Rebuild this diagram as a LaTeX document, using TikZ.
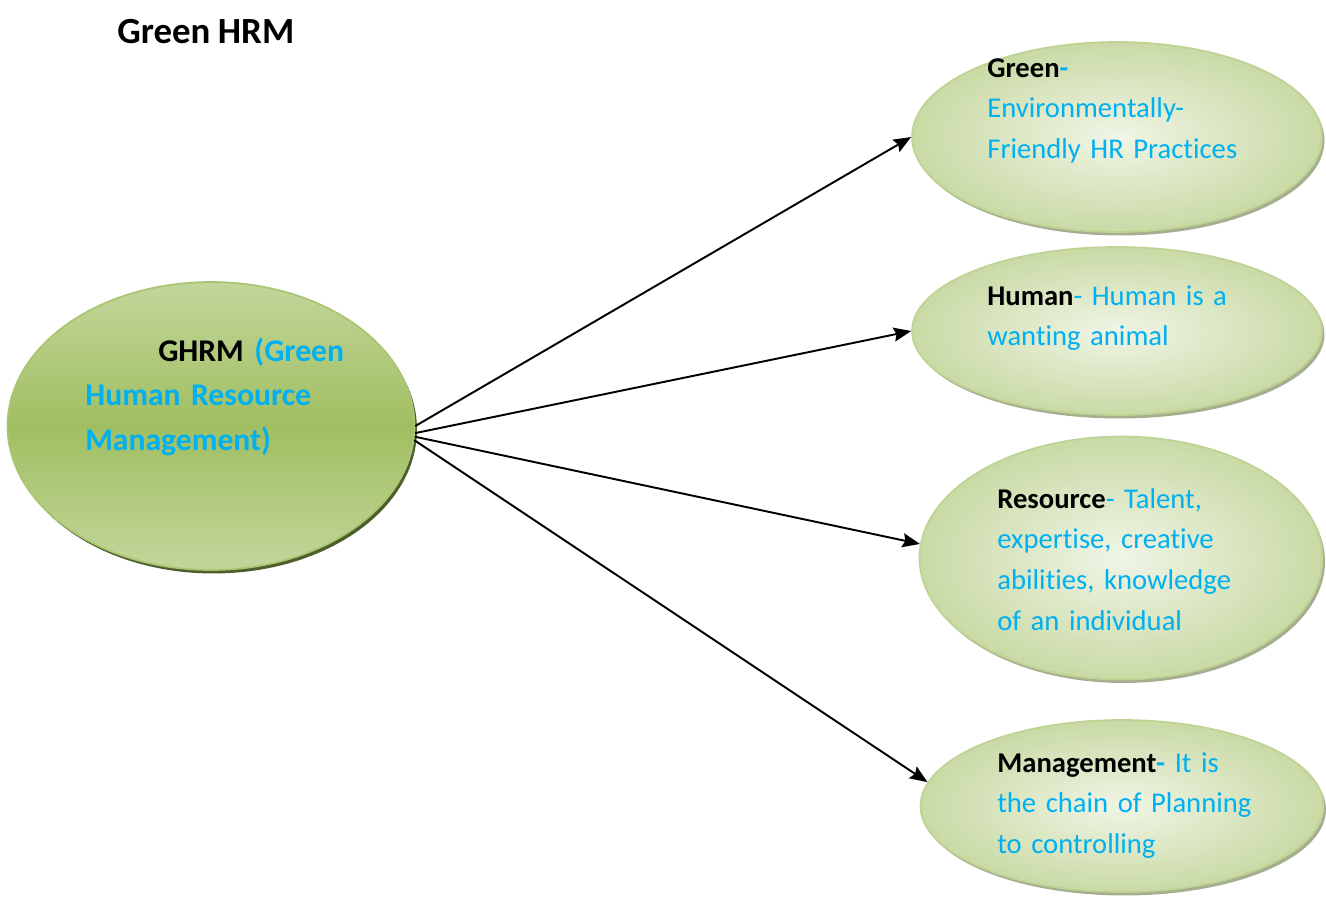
\documentclass[tikz,border=0pt]{standalone}
\usepackage{fontspec}
\setmainfont{Carlito}[Ligatures=NoCommon,WordSpace=0.9]
\usepackage{xcolor}
\usetikzlibrary{arrows.meta,shadows,positioning,shapes.geometric}

\definecolor{ghblue}{HTML}{00B0F0}
\definecolor{leafdark}{HTML}{9BBB59}
\definecolor{leaflight}{HTML}{C3D69B}

\begin{document}
\begin{tikzpicture}[x=0.02cm,y=-0.02cm,>={Stealth[length=10pt,width=8pt,inset=1.5pt]}]

    % Styles
    \tikzset{
        core/.style={ellipse, draw=leafdark!85!white, line width=1pt,
            top color=leaflight, bottom color=leaflight, middle color=leafdark!95!white,
            drop shadow={shadow xshift=0.05cm, shadow yshift=-0.07cm, fill=leafdark!50!black, opacity=1}},
        leaf/.style={ellipse, draw=leaflight!90!leafdark, line width=1pt,
            inner color=leaflight!25!white, outer color=leaflight!90!white,
            drop shadow={shadow xshift=0.05cm, shadow yshift=-0.07cm, fill=leaflight!55!gray, opacity=1}},
        coretext/.style={anchor=base west, inner sep=0pt, text width=6cm, align=left,
            font=\fontsize{18}{25.6}\selectfont\bfseries, text=ghblue},
        leaftext/.style={anchor=base west, inner sep=0pt, text width=6cm, align=left,
            font=\fontsize{16.3}{23.3}\selectfont, text=ghblue},
        link/.style={->, line width=1.1pt, black}
    }

    \useasboundingbox (0,0) rectangle (1326,903);

    % Title
    \node[anchor=base west, inner sep=0pt, font=\fontsize{21}{25}\selectfont\bfseries] (title) at (117,43) {Green HRM};

    % Ellipses
    \node[core, minimum width=8.14cm, minimum height=5.76cm] (ghrm) at (211,426) {};
    \node[leaf, minimum width=8.2cm, minimum height=3.8cm] (green) at (1117,137) {};
    \node[leaf, minimum width=8.2cm, minimum height=3.36cm] (human) at (1117,331) {};
    \node[leaf, minimum width=8.06cm, minimum height=4.86cm] (resource) at (1121,558) {};
    \node[leaf, minimum width=8.06cm, minimum height=3.44cm] (mgmt) at (1122,806) {};

    % Texts
    \node[coretext] (ghrmtxt) at (85,361) {\hspace*{1.46cm}\textcolor{black}{GHRM} (Green\\Human Resource\\Management)};
    \node[leaftext] (greentxt) at (987,77) {\textcolor{black}{\bfseries Green}\textbf{-}\\Environmentally-\\Friendly HR Practices};
    \node[leaftext] (humantxt) at (987,305) {\textcolor{black}{\bfseries Human}- Human is a\\wanting animal};
    \node[leaftext] (resourcetxt) at (997,508) {\textcolor{black}{\bfseries Resource}- Talent,\\expertise, creative\\abilities, knowledge\\of an individual};
    \node[leaftext] (mgmttxt) at (997,772) {\textcolor{black}{\bfseries Management}\textbf{-} It is\\the chain of Planning\\to controlling};

    % Arrows
    \draw[link] (ghrm.0) -- (green.180);
    \draw[link] (ghrm.-2) -- (human.180);
    \draw[link] (ghrm.-3) -- (resource.176);
    \draw[link] (ghrm.-4) -- (mgmt.173);

\end{tikzpicture}
\end{document}
